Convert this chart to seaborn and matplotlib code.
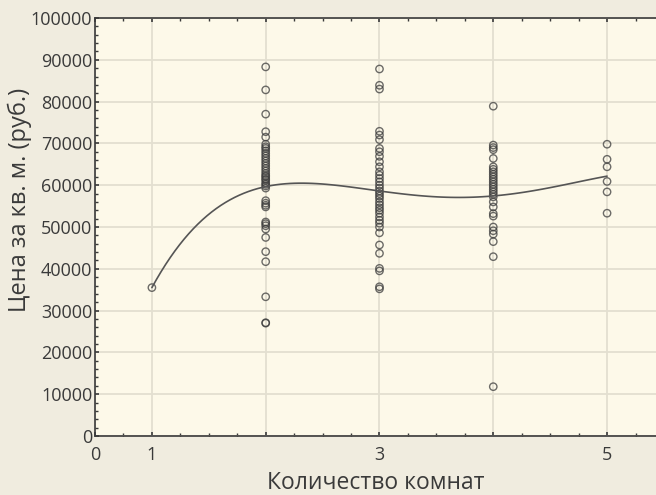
import matplotlib
matplotlib.use("Agg")
import matplotlib.pyplot as plt
import seaborn as sns
import pandas as pd
import numpy as np
from matplotlib.ticker import MultipleLocator, FixedLocator

# ---- data ----
rooms_1 = [35500]
rooms_2 = [88300, 82800, 77000, 72800, 71500, 69800, 69200, 68800, 68200, 67600,
           67000, 66400, 65800, 65200, 64600, 64000, 63400, 62800, 62300, 62000,
           61500, 61200, 60600, 60200, 59800, 59300, 56300, 55700, 55200, 54800,
           51200, 50800, 50300, 49500, 47500, 44100, 41700, 33300, 27100, 27000]
rooms_3 = [87800, 83900, 83000, 72900, 72000, 70900, 68800, 68000, 66900, 65600,
           64400, 63200, 62400, 61600, 60800, 60000, 59300, 58600, 58000, 57400,
           56800, 56000, 55300, 54600, 54000, 53300, 52400, 51600, 50900, 50000,
           48600, 45700, 43700, 40100, 39500, 35700, 35200]
rooms_4 = [78900, 69600, 69000, 68500, 66400, 64400, 63800, 63200, 62600, 62000,
           61400, 60800, 60200, 59600, 59000, 58400, 57800, 57200, 56000, 54800,
           53200, 52600, 50000, 49100, 48300, 46500, 42900, 11800]
rooms_5 = [69800, 66200, 64400, 60900, 58400, 53300]

x_tick_pos = [0.5, 1, 2, 3, 4, 5]
x_tick_labels = ["0", "1", "", "3", "", "5"]
x_label = "Количество комнат"
y_label = "Цена за кв. м. (руб.)"

groups = {1: rooms_1, 2: rooms_2, 3: rooms_3, 4: rooms_4, 5: rooms_5}
df = pd.DataFrame([(k, v) for k, vals in groups.items() for v in vals],
                  columns=["rooms", "price"])

# ---- style ----
sns.set_theme(style="white")
plt.rcParams["font.family"] = ["Open Sans", "DejaVu Sans"]
text_color = "#3a3a3a"
fig_bg = "#f0ecdf"
ax_bg = "#fdf9e9"
grid_c = "#e3dfd0"

fig = plt.figure(figsize=(6.56, 4.95), dpi=100, facecolor=fig_bg)
ax = fig.add_axes([95 / 656, 59 / 495, 561 / 656, 418 / 495])
ax.set_facecolor(ax_bg)

sns.scatterplot(data=df, x="rooms", y="price", ax=ax, marker="o",
                facecolor="none", edgecolor="#3c3c3c", linewidth=1.0,
                s=28, alpha=0.75, zorder=3)
sns.regplot(data=df, x="rooms", y="price", ax=ax, order=4, ci=None,
            scatter=False, truncate=True,
            line_kws=dict(color="#555555", lw=1.2, zorder=4))

ax.set_xlim(0.5, 5.43)
ax.set_ylim(0, 100000)

ax.xaxis.set_major_locator(FixedLocator(x_tick_pos))
ax.set_xticklabels(x_tick_labels)
ax.xaxis.set_minor_locator(MultipleLocator(0.25))
ax.yaxis.set_major_locator(MultipleLocator(10000))
ax.yaxis.set_minor_locator(MultipleLocator(2000))
ax.set_yticklabels([f"{int(v)}" for v in ax.get_yticks()])

ax.grid(True, which="major", color=grid_c, lw=1.3, zorder=0)
ax.set_axisbelow(True)

for side in ["left", "bottom", "top"]:
    ax.spines[side].set_visible(True)
    ax.spines[side].set_color("#3a3a3a")
    ax.spines[side].set_linewidth(1.2)
ax.spines["right"].set_visible(False)

ax.tick_params(which="both", direction="in", top=True, bottom=True, left=True,
               right=False, colors="#3a3a3a", labelcolor=text_color)
ax.tick_params(which="major", length=3, width=1.2, labelsize=13)
ax.tick_params(axis="y", which="major", pad=2)
ax.tick_params(axis="x", which="major", pad=7)
ax.tick_params(which="minor", length=2, width=1.0)

ax.set_xlabel(x_label, fontsize=16.5, color=text_color)
ax.set_ylabel(y_label, fontsize=17, color=text_color)
ax.xaxis.set_label_coords(0.5, -0.112)
ax.yaxis.set_label_coords(-0.134, 0.565)
ax.xaxis.label.set_va("center")
ax.yaxis.label.set_va("center")

fig.savefig("out.png", dpi=100, facecolor=fig_bg)
